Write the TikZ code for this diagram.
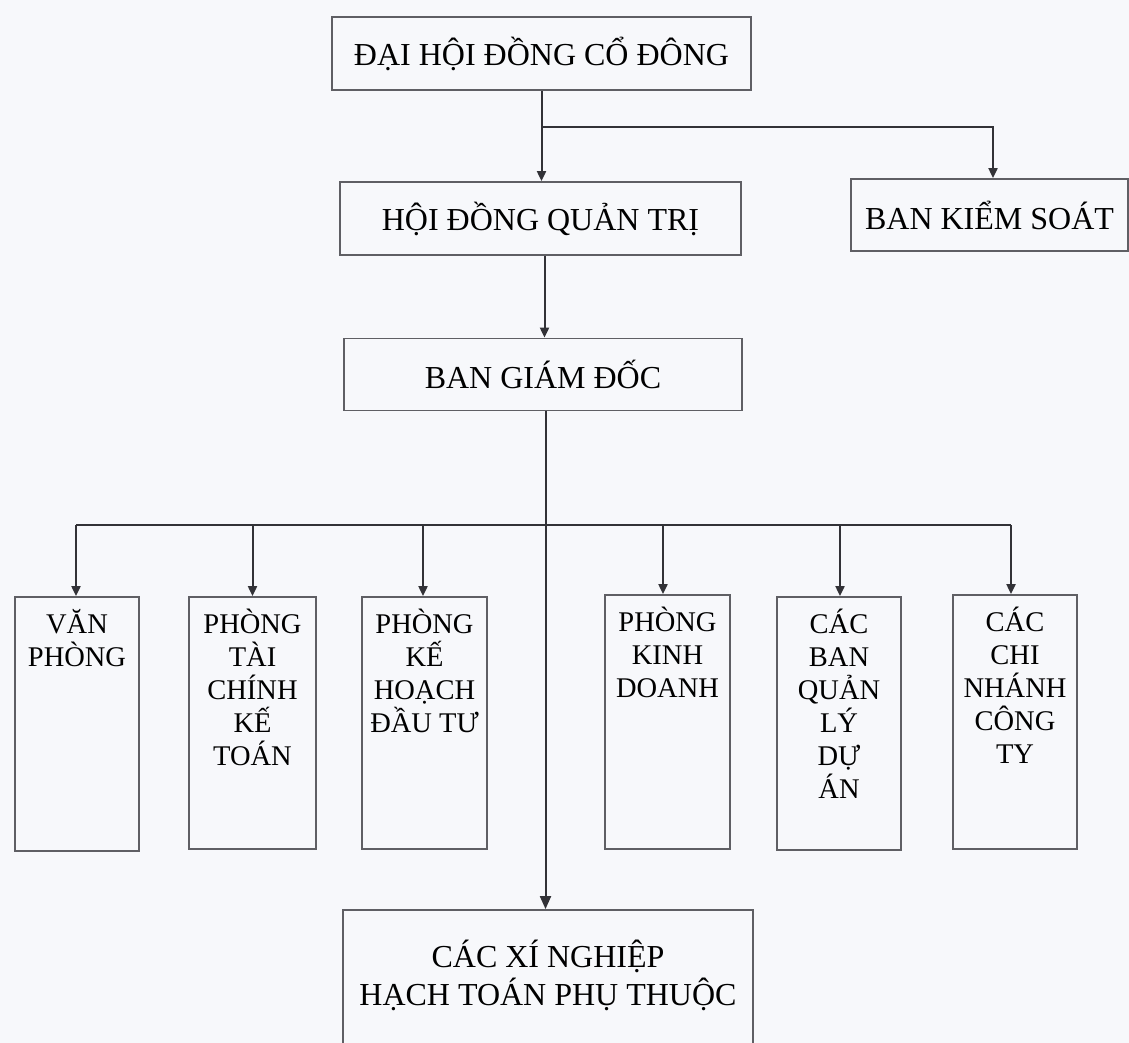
\documentclass[tikz,border=0pt]{standalone}
\usepackage{fontspec}
\setmainfont{Liberation Serif}
\usetikzlibrary{arrows.meta}
\definecolor{bgc}{RGB}{247,248,251}
\definecolor{lnc}{RGB}{50,50,55}
\definecolor{bdc}{RGB}{95,95,100}
\newcommand{\colboxtext}[3]{\parbox[c][#2][t]{#1}{\centering\fontsize{14.25}{16.5}\selectfont\rule{0pt}{18pt}#3}}
\newcommand{\botboxtext}[3]{\parbox[c][#2][t]{#1}{\centering\fontsize{16}{19}\selectfont\rule{0pt}{28.5pt}#3}}
\begin{document}
\begin{tikzpicture}[x=0.5pt,y=-0.5pt,
  topbox/.style={draw=bdc, line width=0.9pt, inner sep=0pt, font=\fontsize{16}{19}\selectfont, align=center},
  colbox/.style={draw=bdc, line width=0.9pt, inner sep=0pt},
  conn/.style={draw=lnc, line width=1pt},
  arr/.style={conn, -{Triangle[length=5pt,width=4.5pt]}},
  bigarr/.style={conn, -{Triangle[length=6.5pt,width=5.5pt]}}]
\useasboundingbox (0,0) rectangle (1129,1043);
\fill[bgc] (0,0) rectangle (1129,1043);

% top level boxes
\node[topbox, minimum width=209.5pt, minimum height=36.5pt] (dh) at (541.5,53.5) {ĐẠI HỘI ĐỒNG CỔ ĐÔNG};
\node[topbox, minimum width=200.5pt, minimum height=36.5pt] (hd) at (540.5,218.5) {HỘI ĐỒNG QUẢN TRỊ};
\node[topbox, minimum width=138.5pt, minimum height=36pt] (bks) at (989.5,215) {BAN KIỂM SOÁT};
\node[topbox, minimum width=199pt, minimum height=36pt] (bgd) at (543,374.5) {BAN GIÁM ĐỐC};

% department boxes
\node[colbox] (vp) at (77,724) {\colboxtext{62pt}{127pt}{VĂN\\PHÒNG}};
\node[colbox] (tckt) at (252.5,723) {\colboxtext{63.5pt}{126pt}{PHÒNG\\TÀI\\CHÍNH\\KẾ\\TOÁN}};
\node[colbox] (khdt) at (424.5,723) {\colboxtext{62.5pt}{126pt}{PHÒNG\\KẾ\\HOẠCH\\ĐẦU TƯ}};
\node[colbox] (kd) at (667.5,722) {\colboxtext{62.5pt}{127pt}{PHÒNG\\KINH\\DOANH}};
\node[colbox] (bql) at (839,723.5) {\colboxtext{62pt}{126.5pt}{CÁC\\BAN\\QUẢN\\LÝ\\DỰ\\ÁN}};
\node[colbox] (cn) at (1015,722) {\colboxtext{62pt}{127pt}{CÁC\\CHI\\NHÁNH\\CÔNG\\TY}};

% bottom box
\node[colbox] (xn) at (548,980) {\botboxtext{205pt}{70pt}{CÁC XÍ NGHIỆP\\HẠCH TOÁN PHỤ THUỘC}};

% connectors
\coordinate (j1) at (541.5,127);
\coordinate (bus) at (0,525);
\draw[arr] (dh.south) -- (dh.south |- hd.north);
\draw[arr] (j1) -| ([xshift=1.75pt]bks.north);
\draw[arr] ([xshift=0.75pt]bgd.north |- hd.south) -- ([xshift=0.75pt]bgd.north);
\draw[bigarr] ([xshift=1.25pt]bgd.south) -- ([xshift=1.25pt]bgd.south |- xn.north);
\draw[conn] ([xshift=-0.5pt]vp.north |- bus) -- ([xshift=-2pt]cn.north |- bus);
\foreach \b/\s in {vp/-0.5pt,tckt/0pt,khdt/-0.75pt,kd/-2.25pt,bql/0.5pt,cn/-2pt}
  \draw[arr] ([xshift=\s]\b.north |- bus) -- ([xshift=\s]\b.north);
\end{tikzpicture}
\end{document}
